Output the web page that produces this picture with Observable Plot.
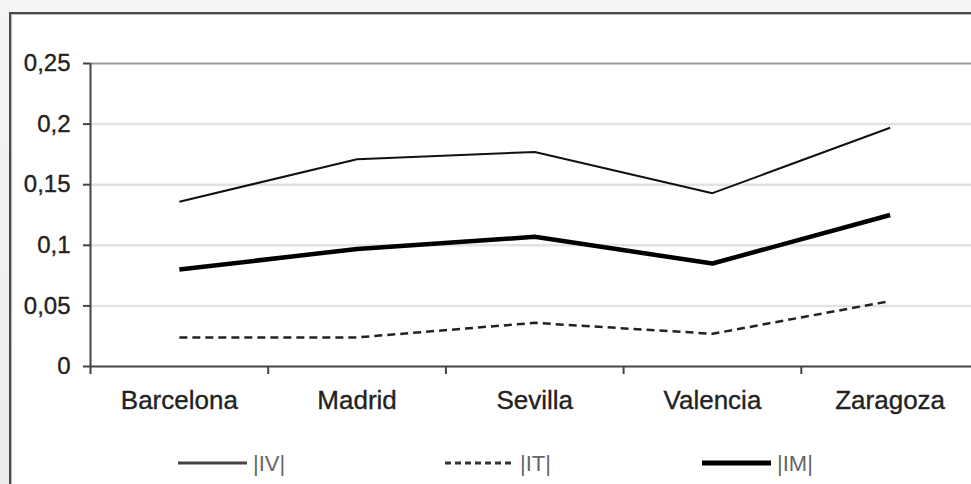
<!DOCTYPE html>
<html>
<head>
<meta charset="utf-8">
<script src="https://cdn.jsdelivr.net/npm/d3@7"></script>
<script src="https://cdn.jsdelivr.net/npm/@observablehq/plot@0.6"></script>
<style>
  html, body { margin: 0; padding: 0; width: 971px; height: 484px; overflow: hidden;
    background: linear-gradient(#f4f4f4, #ececec); font-family: "Liberation Sans", Arial, sans-serif; }
  #frame { position: absolute; left: 9px; top: 12px; width: 1000px; height: 520px;
    background: #fff; border-left: 2px solid #4a4a4a; border-top: 2px solid #4a4a4a;
    box-shadow: inset 1px 1px 0 #b8b8b8; }
  #chart { position: absolute; left: 0; top: 0; }
  #chart text { stroke: #222; stroke-width: 0.35px; }
  #legend { position: absolute; left: 0; top: 440px; }
</style>
</head>
<body>
<div id="frame"></div>
<div id="chart"></div>
<svg id="legend" width="971" height="44"></svg>
<script>
// ---- data ----
const cities = ["Barcelona", "Madrid", "Sevilla", "Valencia", "Zaragoza"];
const seriesNames = ["|IV|", "|IT|", "|IM|"];
const ivValues = [0.136, 0.171, 0.177, 0.143, 0.197];
const itValues = [0.024, 0.024, 0.036, 0.027, 0.054];
const imValues = [0.080, 0.097, 0.107, 0.085, 0.125];
const yTicks = [0, 0.05, 0.1, 0.15, 0.2, 0.25];

const toRows = (vals) => cities.map((c, i) => ({city: c, pos: i + 0.5, value: vals[i]}));
const fmt = (d) => String(d).replace(".", ",");

const styles = {
  "|IV|": {stroke: "#111", strokeWidth: 2, dash: null, legendWidth: 3, legendColor: "#444"},
  "|IT|": {stroke: "#222", strokeWidth: 2.5, dash: "8,5", legendWidth: 3, legendColor: "#333"},
  "|IM|": {stroke: "#000", strokeWidth: 4.5, dash: null, legendWidth: 5, legendColor: "#000"}
};
const seriesValues = {"|IV|": ivValues, "|IT|": itValues, "|IM|": imValues};

const lineMarks = seriesNames.map(name => Plot.line(toRows(seriesValues[name]), {
  x: "pos", y: "value",
  stroke: styles[name].stroke, strokeWidth: styles[name].strokeWidth,
  strokeDasharray: styles[name].dash, strokeLinejoin: "miter", strokeLinecap: "butt"
}));

const plot = Plot.plot({
  width: 990,
  height: 426,
  marginLeft: 90,
  marginRight: 11.5,
  marginTop: 63,
  marginBottom: 60,
  style: {background: "transparent", maxWidth: "none", overflow: "visible",
          fontFamily: "'Liberation Sans', Arial, sans-serif", color: "#222"},
  x: {type: "linear", domain: [0, cities.length]},
  y: {domain: [0, 0.25]},
  marks: [
    Plot.ruleY(yTicks.slice(1, -1), {stroke: "#e2e2e2", strokeWidth: 2.5}),
    Plot.ruleY([0.25], {stroke: "#9a9a9a", strokeWidth: 2}),
    Plot.axisY({ticks: yTicks, tickFormat: fmt, tickSize: 7, tickPadding: 13,
                fontSize: 24, stroke: "#444", strokeWidth: 2, label: null}),
    Plot.axisX({ticks: d3.range(0, cities.length + 1), tickSize: 8, tickFormat: () => "",
                stroke: "#444", strokeWidth: 2, label: null}),
    Plot.axisX({ticks: cities.map((c, i) => i + 0.5), tickSize: 0, tickPadding: 24,
                tickFormat: d => cities[Math.floor(d)], fontSize: 26, label: null}),
    Plot.ruleX([0], {stroke: "#444", strokeWidth: 2}),
    Plot.ruleY([0], {stroke: "#444", strokeWidth: 2}),
    ...lineMarks
  ]
});
plot.style.maxWidth = "none";
document.getElementById("chart").appendChild(plot);

// ---- legend ----
const legendX = {"|IV|": 178, "|IT|": 445, "|IM|": 702};
const leg = d3.select("#legend");
seriesNames.forEach(name => {
  const x0 = legendX[name];
  const g = leg.append("g").attr("transform", `translate(${x0},23)`);
  g.append("line").attr("x1", 0).attr("x2", 69).attr("y1", 0).attr("y2", 0)
    .attr("stroke", styles[name].legendColor).attr("stroke-width", styles[name].legendWidth)
    .attr("stroke-dasharray", styles[name].dash ? "6,4" : null);
  g.append("text").attr("x", 75).attr("y", 0).attr("dy", "0.38em")
    .attr("font-size", 22).attr("fill", "#666")
    .attr("font-family", "'Liberation Sans', Arial, sans-serif")
    .text(name);
});
</script>
</body>
</html>
